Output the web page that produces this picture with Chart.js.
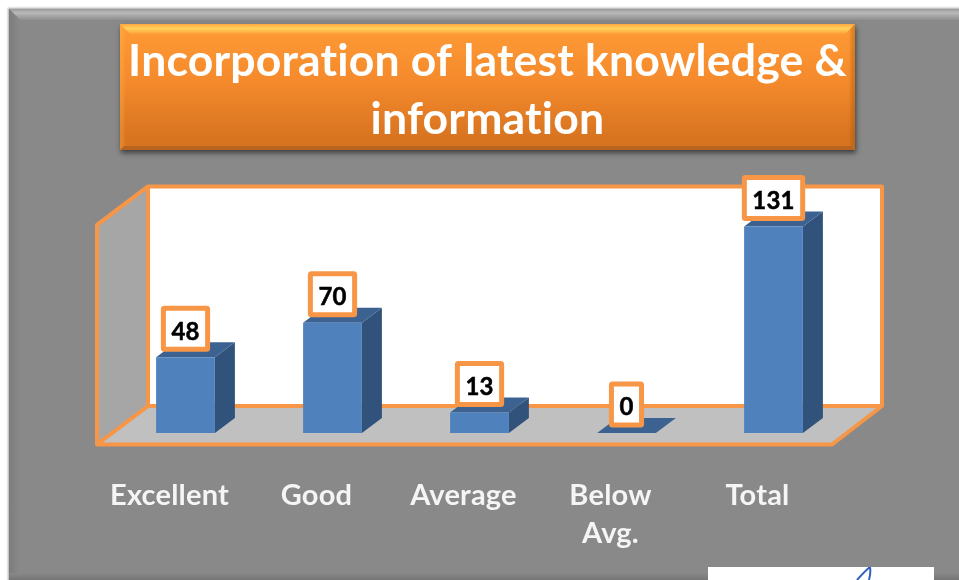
<!DOCTYPE html>
<html>
<head>
<meta charset="utf-8">
<title>Incorporation of latest knowledge & information</title>
<script src="https://cdn.jsdelivr.net/npm/chart.js@4"></script>
<style>
  html, body { margin: 0; padding: 0; background: #fff; overflow: hidden; }
  body { position: relative; width: 959px; height: 580px; }
  /* grey slide panel with bevelled edges */
  #panel {
    position: absolute; left: 9px; top: 9px; width: 960px; height: 580px;
    background: #898989;
    box-shadow: -1px -1px 2px rgba(0,0,0,.35);
  }
  #panel-top {
    position: absolute; left: 9px; top: 9px; width: 950px; height: 11px;
    background: linear-gradient(#9a9a9a, #b9b9b9 35%, #8e8e8e);
    clip-path: polygon(0 0, 100% 0, 100% 100%, 11px 100%);
  }
  #panel-left {
    position: absolute; left: 9px; top: 9px; width: 11px; height: 571px;
    background: linear-gradient(to right, #7d7d7d, #898989);
    clip-path: polygon(0 0, 100% 11px, 100% 100%, 0 100%);
  }
  #panel-bottom {
    position: absolute; left: 9px; top: 573px; width: 950px; height: 7px;
    background: linear-gradient(#898989, #757575);
  }
  /* orange title plate */
  #plate {
    position: absolute; left: 120px; top: 24px; width: 735px; height: 126px;
    background: linear-gradient(#ff9b36, #f58a2c 45%, #d87420 90%);
    box-shadow: 1px 3px 5px rgba(0,0,0,.55), inset 4px 0 3px rgba(255,190,90,.25), inset -4px 0 3px rgba(150,80,10,.35);
  }
  #plate-top {
    position: absolute; left: 120px; top: 24px; width: 735px; height: 10px;
    background: linear-gradient(#ffa73c, #ffd35e 45%, #ff9f38);
    clip-path: polygon(0 0, 100% 0, calc(100% - 10px) 100%, 10px 100%);
  }
  #plate-bottom {
    position: absolute; left: 120px; top: 146px; width: 735px; height: 4px;
    background: #b8661f;
    clip-path: polygon(4px 0, calc(100% - 4px) 0, 100% 100%, 0 100%);
  }
  #signature { position: absolute; left: 708px; top: 567px; width: 226px; height: 13px; background: #fff; }
  #signature svg { position: absolute; left: 0; top: 0; }
  #chart { position: absolute; left: 0; top: 0; }
</style>
</head>
<body>
<div id="panel"></div>
<div id="panel-top"></div>
<div id="panel-left"></div>
<div id="panel-bottom"></div>
<div id="plate"></div>
<div id="plate-top"></div>
<div id="plate-bottom"></div>
<div id="signature"><svg width="226" height="13"><path d="M149 13 Q157 4 162 0 Q163 6 161 13" fill="none" stroke="#2f5fc0" stroke-width="2"/></svg></div>
<canvas id="chart" width="959" height="580"></canvas>
<script>
const titleLines = ['Incorporation of latest knowledge &', 'information'];
const categories = ['Excellent', 'Good', 'Average', ['Below', 'Avg.'], 'Total'];
const responses = [48, 70, 13, 0, 131];
const axisMax = 140;

const ORANGE = '#f79646';
const FONT = 'Lato, "Open Sans", sans-serif';

// fake 3d: wall + floor behind the bars
const frame3d = {
  id: 'frame3d',
  beforeDraw(chart) {
    // a tiny spacing keeps Lato from joining "ti" into a ligature
    chart.ctx.letterSpacing = '0.2px';
  },
  afterLayout(chart) {
    // plate is not centred on the plot, so move the title with it
    chart.titleBlock.left += 8;
    chart.titleBlock.right += 8;
  },
  beforeDatasetsDraw(chart) {
    const { ctx, chartArea, scales } = chart;
    const height = scales.y.getPixelForValue(0) - scales.y.getPixelForValue(axisMax) - 1;
    const fl = chartArea.left - 15, fr = chartArea.right - 15, fb = chartArea.bottom + 11.5;
    const bl = fl + 51, br = fr + 50, bb = fb - 38.5, bt = bb - height;
    const ft = fb - height;

    ctx.save();
    ctx.lineJoin = 'round';
    ctx.strokeStyle = ORANGE;
    ctx.lineWidth = 4;

    // back wall
    ctx.fillStyle = '#fff';
    ctx.fillRect(bl, bt, br - bl, bb - bt);
    // left wall
    ctx.fillStyle = '#a6a6a6';
    ctx.beginPath();
    ctx.moveTo(fl, fb); ctx.lineTo(fl, ft); ctx.lineTo(bl, bt); ctx.lineTo(bl, bb);
    ctx.closePath();
    ctx.fill();
    // floor
    ctx.fillStyle = '#c0c0c0';
    ctx.beginPath();
    ctx.moveTo(fl, fb); ctx.lineTo(fr, fb); ctx.lineTo(br, bb); ctx.lineTo(bl, bb);
    ctx.closePath();
    ctx.fill();

    ctx.beginPath();
    ctx.moveTo(fl, fb); ctx.lineTo(fr, fb); ctx.lineTo(br, bb); ctx.lineTo(bl, bb);
    ctx.closePath();
    ctx.moveTo(br, bb); ctx.lineTo(br, bt); ctx.lineTo(bl, bt); ctx.lineTo(bl, bb);
    ctx.moveTo(bl, bt); ctx.lineTo(fl, ft); ctx.lineTo(fl, fb);
    ctx.stroke();

    // side and top face of every bar
    const dx = 20, dy = 15;
    chart.getDatasetMeta(0).data.forEach(bar => {
      const l = bar.x - bar.width / 2, r = bar.x + bar.width / 2;
      ctx.fillStyle = '#31527a';
      ctx.beginPath();
      ctx.moveTo(r, bar.base); ctx.lineTo(r + dx, bar.base - dy);
      ctx.lineTo(r + dx, bar.y - dy); ctx.lineTo(r, bar.y);
      ctx.closePath();
      ctx.fill();
      ctx.fillStyle = '#3c6292';
      ctx.beginPath();
      ctx.moveTo(l, bar.y); ctx.lineTo(r, bar.y);
      ctx.lineTo(r + dx, bar.y - dy); ctx.lineTo(l + dx, bar.y - dy);
      ctx.closePath();
      ctx.fill();
    });
    ctx.restore();
  },
  // value boxes sit on top of the bars
  afterDatasetsDraw(chart) {
    const { ctx } = chart;
    ctx.save();
    ctx.font = '700 24px ' + FONT;
    ctx.textAlign = 'center';
    ctx.textBaseline = 'middle';
    chart.getDatasetMeta(0).data.forEach((bar, i) => {
      const text = String(responses[i]);
      const w = ctx.measureText(text).width + 16;
      const h = 41;
      const x = bar.x - w / 2, y = bar.y - 8 - h;
      ctx.beginPath();
      ctx.roundRect(x, y, w, h, 1);
      ctx.fillStyle = '#fff';
      ctx.fill();
      ctx.lineWidth = 5;
      ctx.strokeStyle = ORANGE;
      ctx.stroke();
      ctx.fillStyle = '#000';
      ctx.strokeStyle = '#000';
      ctx.lineWidth = 0.5;
      ctx.fillText(text, bar.x, y + h / 2 + 3);
      ctx.strokeText(text, bar.x, y + h / 2 + 3);
    });
    ctx.restore();
  }
};

new Chart(document.getElementById('chart'), {
  type: 'bar',
  data: {
    labels: categories,
    datasets: [{
      label: 'Responses',
      data: responses,
      backgroundColor: '#4f81bd',
      borderWidth: 0,
      barPercentage: 0.4,
      categoryPercentage: 1
    }]
  },
  options: {
    responsive: false,
    animation: false,
    layout: { padding: { left: 112, right: 112, top: 0, bottom: 27 } },
    plugins: {
      legend: { display: false },
      tooltip: { enabled: false },
      title: {
        display: true,
        text: titleLines,
        color: '#fff',
        font: { family: FONT, size: 44.5, weight: '700', lineHeight: 1.3 },
        padding: { top: 33, bottom: 63.7 }
      }
    },
    scales: {
      x: {
        grid: { display: false, drawTicks: false },
        border: { display: false },
        afterFit(scale) { scale.height = 120; },
        ticks: {
          color: '#f5f5f5',
          font: { family: FONT, size: 29, weight: '700', lineHeight: 1.33 },
          padding: 43,
          labelOffset: -16,
          maxRotation: 0,
          autoSkip: false
        }
      },
      y: {
        display: false,
        min: 0,
        max: axisMax
      }
    }
  },
  plugins: [frame3d]
});
</script>
</body>
</html>
